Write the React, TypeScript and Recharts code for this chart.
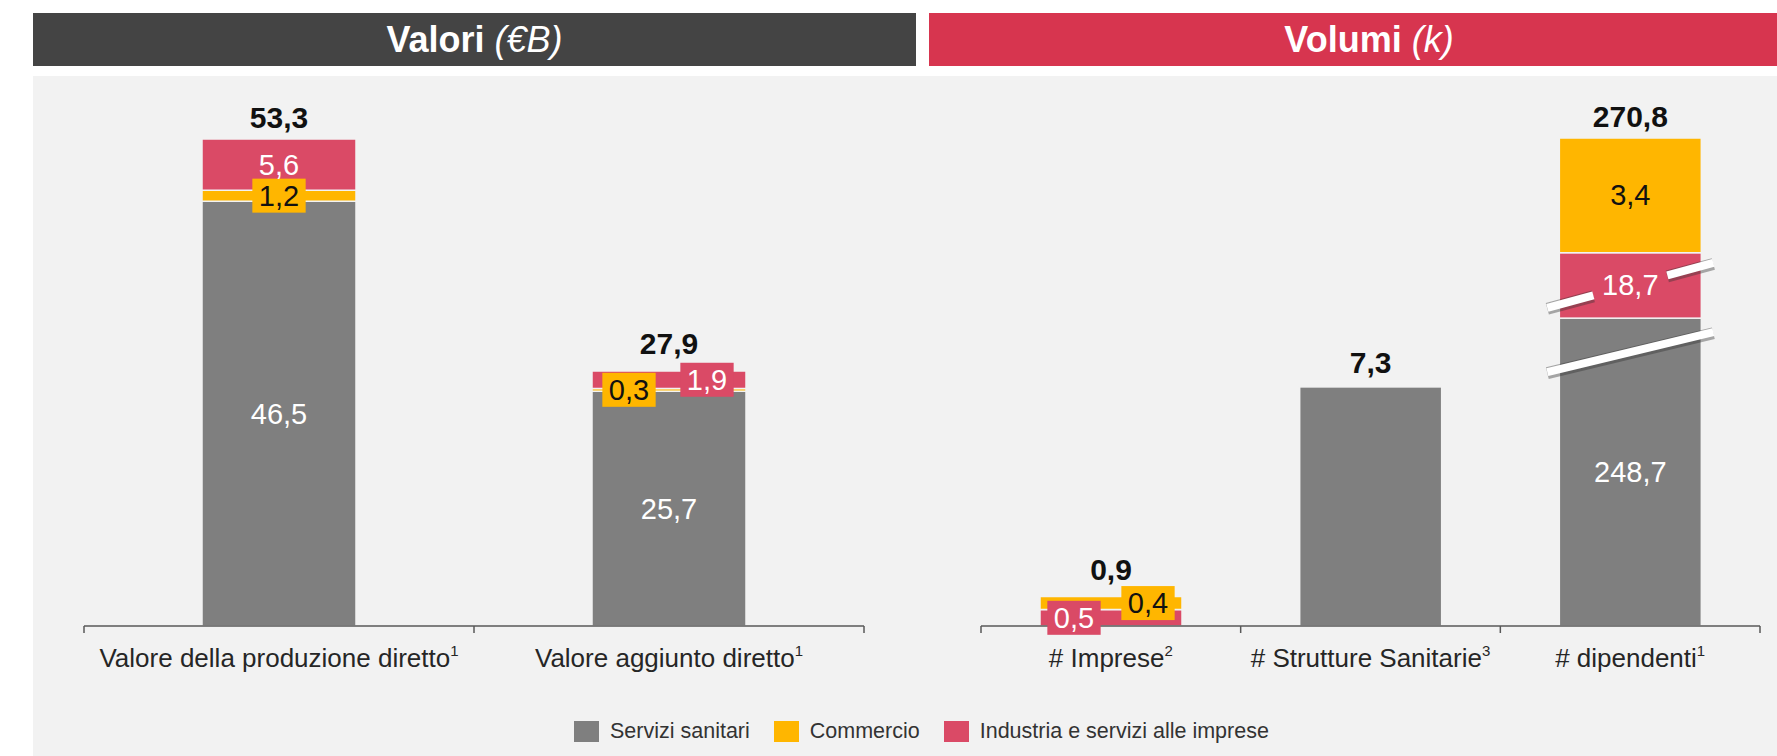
import React from "react";
import { BarChart, Bar, XAxis, YAxis, LabelList } from "recharts";

const GRAY = "#7f7f7f";
const YELLOW = "#ffb600";
const RED = "#da4a66";
const BG = "#f2f2f2";
const AXIS = "#595959";
const INK = "#262626";
const FONT = "'Liberation Sans', Arial, Helvetica, sans-serif";

// Valori (€B)
const leftCategories = ["Valore della produzione diretto", "Valore aggiunto diretto"];
const leftNotes = ["1", "1"];
const leftServizi = [46.5, 25.7];
const leftCommercio = [1.2, 0.3];
const leftIndustria = [5.6, 1.9];
const leftTotals = [53.3, 27.9];

// Volumi (k)
const rightCategories = ["# Imprese", "# Strutture Sanitarie", "# dipendenti"];
const rightNotes = ["2", "3", "1"];
const rightServizi = [0, 7.3, 248.7];
const rightCommercio = [0.4, 0, 3.4];
const rightIndustria = [0.5, 0, 18.7];
const rightTotals = [0.9, 7.3, 270.8];
// "# dipendenti" is drawn on a broken axis: segment heights as drawn, in the units of the other bars
const dipendentiDrawn = { servizi: 9.4, industria: 2.0, commercio: 3.5 };
const BROKEN = rightCategories.indexOf("# dipendenti");

const SERIES = [
  { key: "servizi", name: "Servizi sanitari", color: GRAY },
  { key: "commercio", name: "Commercio", color: YELLOW },
  { key: "industria", name: "Industria e servizi alle imprese", color: RED },
];

const fmt = (v: number) => v.toFixed(1).replace(".", ",");
const shown = (v: number, total: number) => (v === 0 || v === total ? null : v);

const leftRows = leftCategories.map((name, i) => ({
  name,
  servizi: leftServizi[i],
  commercio: leftCommercio[i],
  industria: leftIndustria[i],
  serviziLbl: shown(leftServizi[i], leftTotals[i]),
  commercioLbl: shown(leftCommercio[i], leftTotals[i]),
  industriaLbl: shown(leftIndustria[i], leftTotals[i]),
  total: leftTotals[i],
}));

const rightRows = rightCategories.map((name, i) => ({
  name,
  servizi: i === BROKEN ? dipendentiDrawn.servizi : rightServizi[i],
  industria: i === BROKEN ? dipendentiDrawn.industria : rightIndustria[i],
  commercio: i === BROKEN ? dipendentiDrawn.commercio : rightCommercio[i],
  serviziLbl: shown(rightServizi[i], rightTotals[i]),
  industriaLbl: shown(rightIndustria[i], rightTotals[i]),
  commercioLbl: shown(rightCommercio[i], rightTotals[i]),
  total: rightTotals[i],
}));

// which stacked series is the top visible one in each column (the total sits on it)
const topSeries = (rows: any[], order: string[]) =>
  rows.map((r) => order.filter((k) => r[k] > 0).pop());
const leftTop = topSeries(leftRows, ["servizi", "commercio", "industria"]);
const rightTop = topSeries(rightRows, ["servizi", "industria", "commercio"]);

const LEFT = { w: 882, h: 625, margin: { top: 64, right: 52, bottom: 0, left: 50 } };
const RIGHT = { w: 848, h: 625, margin: { top: 63, right: 17, bottom: 0, left: 52 } };
const AXIS_H = 74;
const LABEL_FS = 29;
const LEFT_LIFT = [11, 17];
const RIGHT_LIFT = [17, 14, 11];

function textWidth(s: string, fs: number) {
  let w = 0;
  for (const c of s) w += c === "," ? 0.278 : 0.556;
  return w * fs;
}

// labels are matched to their column by value (empty segments may be skipped by the label list)
function segmentLabel(values: number[], ink: string, box: string | null, shift: number[]) {
  return (p: any) => {
    const vb = p.viewBox ?? p;
    const v = p.value;
    if (v === null || v === undefined || v === "") return null;
    const i = values.indexOf(Number(v));
    const { x, y, width, height } = vb;
    const boxed = box && Math.abs(height) < 30;
    const cx = x + width / 2 + (boxed ? shift[i] ?? 0 : 0);
    const cy = y + height / 2;
    const s = fmt(Number(v));
    const bw = textWidth(s, LABEL_FS) + 13;
    return (
      <g>
        {boxed && <rect x={cx - bw / 2} y={cy - 17} width={bw} height={34} fill={box as string} />}
        <text x={cx} y={cy} textAnchor="middle" dominantBaseline="central" fontSize={LABEL_FS} fill={ink} fontFamily={FONT}>
          {s}
        </text>
      </g>
    );
  };
}

function totalLabel(totals: number[], lift: number[], tops: (string | undefined)[], key: string) {
  return (p: any) => {
    const i = totals.indexOf(Number(p.value));
    if (i < 0 || tops[i] !== key) return null;
    const vb = p.viewBox ?? p;
    return (
      <text x={vb.x + vb.width / 2} y={vb.y - lift[i]} textAnchor="middle" fontSize={30} fontWeight={700} fill="#111" fontFamily={FONT}>
        {fmt(Number(p.value))}
      </text>
    );
  };
}

function makeTick(notes: string[], half: number, count: number) {
  return (p: any) => {
    const { x, y, payload, index } = p;
    return (
      <g>
        <line x1={x - half} x2={x - half} y1={y} y2={y + 7} stroke={AXIS} strokeWidth={1.5} />
        {index === count - 1 && <line x1={x + half} x2={x + half} y1={y} y2={y + 7} stroke={AXIS} strokeWidth={1.5} />}
        <text x={x} y={y + 41} textAnchor="middle" fontSize={26} fill={INK} fontFamily={FONT}>
          {payload.value}
          <tspan fontSize={15} dy={-11}>{notes[index]}</tspan>
        </text>
      </g>
    );
  };
}

function BreakMark({ x, width, cy, slope, gap }: { x: number; width: number; cy: number; slope: number; gap: number }) {
  const cx = x + width / 2;
  const x0 = x - 12;
  const x1 = x + width + 12;
  const yAt = (px: number) => cy - slope * (px - cx);
  const parts = gap ? [[x0, cx - gap], [cx + gap, x1]] : [[x0, x1]];
  return (
    <g>
      {parts.map(([a, b], k) => (
        <g key={k}>
          <line x1={a} y1={yAt(a) + 1} x2={b} y2={yAt(b) + 1} stroke="#333" strokeOpacity={0.4} strokeWidth={12} />
          <line x1={a} y1={yAt(a)} x2={b} y2={yAt(b)} stroke="#fff" strokeWidth={8} />
        </g>
      ))}
    </g>
  );
}

function brokenShape(kind: "servizi" | "industria") {
  return (p: any) => {
    const { x, y, width, height, fill, index } = p;
    const h = Math.max(0, height || 0);
    return (
      <g>
        <rect x={x} y={y} width={width} height={h} fill={fill} stroke={BG} strokeWidth={1.5} />
        {index === BROKEN && h > 0 && (
          <BreakMark
            x={x}
            width={width}
            cy={kind === "industria" ? y + h / 2 : y + 34}
            slope={kind === "industria" ? 0.27 : 0.24}
            gap={kind === "industria" ? 37 : 0}
          />
        )}
      </g>
    );
  };
}

function Legend() {
  return (
    <div style={{ position: "absolute", left: 574, top: 719, display: "flex", alignItems: "center", fontSize: 21.5, color: "#333" }}>
      {SERIES.map((s) => (
        <span key={s.key} style={{ display: "flex", alignItems: "center", marginRight: 24 }}>
          <span style={{ width: 25, height: 21, background: s.color, marginRight: 11, display: "inline-block" }} />
          {s.name}
        </span>
      ))}
    </div>
  );
}

export default function App() {
  const leftPlotW = LEFT.w - LEFT.margin.left - LEFT.margin.right;
  const rightPlotW = RIGHT.w - RIGHT.margin.left - RIGHT.margin.right;
  const rightMax = Math.max(...rightRows.map((r) => r.servizi + r.industria + r.commercio));

  return (
    <div style={{ position: "absolute", left: 0, top: 0, width: 1777, height: 756, overflow: "hidden", background: "#fff", fontFamily: FONT }}>
      <div
        style={{
          position: "absolute", left: 33, top: 13, width: 883, height: 53, background: "#444",
          color: "#fff", display: "flex", alignItems: "center", justifyContent: "center", fontSize: 36, fontWeight: 700,
        }}
      >
        Valori&nbsp;<span style={{ fontStyle: "italic", fontWeight: 400 }}>(€B)</span>
      </div>
      <div
        style={{
          position: "absolute", left: 929, top: 13, width: 880, height: 53, background: "#d7354f",
          color: "#fff", display: "flex", alignItems: "center", justifyContent: "center", fontSize: 36, fontWeight: 700,
        }}
      >
        Volumi&nbsp;<span style={{ fontStyle: "italic", fontWeight: 400 }}>(k)</span>
      </div>
      <div style={{ position: "absolute", left: 33, top: 76, width: 1744, height: 680, background: BG }} />

      <div style={{ position: "absolute", left: 34, top: 75 }}>
        <BarChart width={LEFT.w} height={LEFT.h} data={leftRows} margin={LEFT.margin}>
          <XAxis
            dataKey="name"
            height={AXIS_H}
            interval={0}
            tickSize={0}
            tickMargin={0}
            axisLine={{ stroke: AXIS, strokeWidth: 1.5 }}
            tickLine={false}
            tick={makeTick(leftNotes, leftPlotW / leftCategories.length / 2, leftCategories.length)}
          />
          <YAxis hide domain={[0, Math.max(...leftTotals)]} />
          <Bar dataKey="servizi" stackId="a" fill={GRAY} stroke={BG} strokeWidth={1.5} barSize={154} isAnimationActive={false}>
            <LabelList dataKey="serviziLbl" content={segmentLabel(leftServizi, "#fff", null, [0, 0])} />
            <LabelList dataKey="total" content={totalLabel(leftTotals, LEFT_LIFT, leftTop, "servizi")} />
          </Bar>
          <Bar dataKey="commercio" stackId="a" fill={YELLOW} stroke={BG} strokeWidth={1.5} barSize={154} isAnimationActive={false}>
            <LabelList dataKey="commercioLbl" content={segmentLabel(leftCommercio, "#111", YELLOW, [0, -40])} />
            <LabelList dataKey="total" content={totalLabel(leftTotals, LEFT_LIFT, leftTop, "commercio")} />
          </Bar>
          <Bar dataKey="industria" stackId="a" fill={RED} stroke={BG} strokeWidth={1.5} barSize={154} isAnimationActive={false}>
            <LabelList dataKey="industriaLbl" content={segmentLabel(leftIndustria, "#fff", RED, [0, 38])} />
            <LabelList dataKey="total" content={totalLabel(leftTotals, LEFT_LIFT, leftTop, "industria")} />
          </Bar>
        </BarChart>
      </div>

      <div style={{ position: "absolute", left: 929, top: 75 }}>
        <BarChart width={RIGHT.w} height={RIGHT.h} data={rightRows} margin={RIGHT.margin}>
          <XAxis
            dataKey="name"
            height={AXIS_H}
            interval={0}
            tickSize={0}
            tickMargin={0}
            axisLine={{ stroke: AXIS, strokeWidth: 1.5 }}
            tickLine={false}
            tick={makeTick(rightNotes, rightPlotW / rightCategories.length / 2, rightCategories.length)}
          />
          <YAxis hide domain={[0, rightMax]} />
          <Bar dataKey="servizi" stackId="a" fill={GRAY} barSize={142} shape={brokenShape("servizi")} isAnimationActive={false}>
            <LabelList dataKey="serviziLbl" content={segmentLabel(rightServizi, "#fff", null, [0, 0, 0])} />
            <LabelList dataKey="total" content={totalLabel(rightTotals, RIGHT_LIFT, rightTop, "servizi")} />
          </Bar>
          <Bar dataKey="industria" stackId="a" fill={RED} barSize={142} shape={brokenShape("industria")} isAnimationActive={false}>
            <LabelList dataKey="industriaLbl" content={segmentLabel(rightIndustria, "#fff", RED, [-37, 0, 0])} />
            <LabelList dataKey="total" content={totalLabel(rightTotals, RIGHT_LIFT, rightTop, "industria")} />
          </Bar>
          <Bar dataKey="commercio" stackId="a" fill={YELLOW} stroke={BG} strokeWidth={1.5} barSize={142} isAnimationActive={false}>
            <LabelList dataKey="commercioLbl" content={segmentLabel(rightCommercio, "#111", YELLOW, [37, 0, 0])} />
            <LabelList dataKey="total" content={totalLabel(rightTotals, RIGHT_LIFT, rightTop, "commercio")} />
          </Bar>
        </BarChart>
      </div>

      <Legend />
    </div>
  );
}
